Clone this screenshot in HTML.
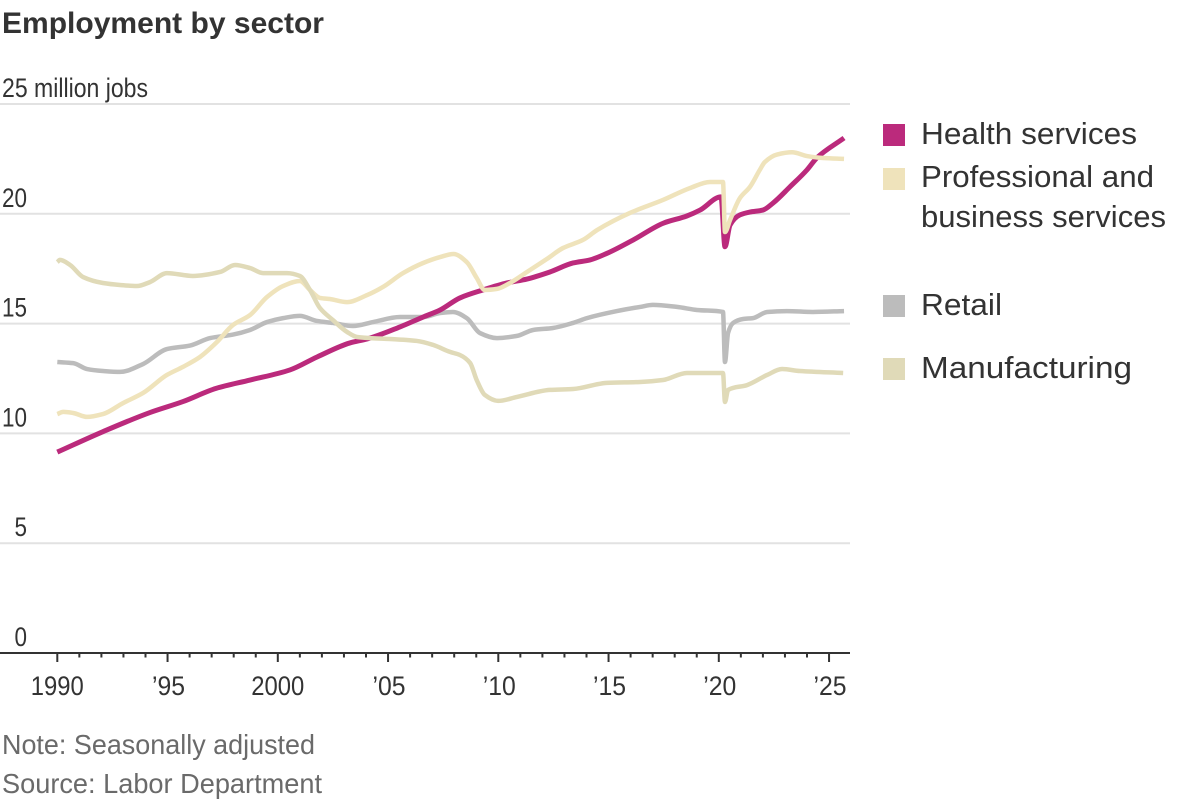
<!DOCTYPE html>
<html lang="en">
<head>
<meta charset="utf-8">
<title>Employment by sector</title>
<style>
html,body{margin:0;padding:0;background:#fff;width:1200px;height:800px;overflow:hidden}
svg{display:block}
text{font-family:"Liberation Sans",sans-serif;fill:#333}
.note{fill:#6a6a6a;font-size:28px}
.legend{font-size:31px}
.tick{font-size:27px}
</style>
</head>
<body>
<svg id="chart" xmlns="http://www.w3.org/2000/svg" width="1200" height="800" viewBox="0 0 1200 800">
  <text x="2" y="33" font-size="30" font-weight="700" textLength="322" lengthAdjust="spacingAndGlyphs">Employment by sector</text>
  <g id="grid"></g>
  <g id="axis"></g>
  <g id="series"></g>
  <g>
    <g>
      <rect x="883" y="124" width="22" height="22" fill="#bb2a7c"/>
      <text class="legend" x="921" y="144" textLength="216" lengthAdjust="spacingAndGlyphs">Health services</text>
    </g>
    <g>
      <rect x="883" y="168" width="22" height="22" fill="#efe3bb"/>
      <text class="legend" x="921" y="187" textLength="233" lengthAdjust="spacingAndGlyphs">Professional and</text>
      <text class="legend" x="921" y="227" textLength="245" lengthAdjust="spacingAndGlyphs">business services</text>
    </g>
    <g>
      <rect x="883" y="295" width="22" height="22" fill="#bcbcbc"/>
      <text class="legend" x="921" y="315" textLength="81" lengthAdjust="spacingAndGlyphs">Retail</text>
    </g>
    <g>
      <rect x="883" y="358" width="22" height="22" fill="#e0dab8"/>
      <text class="legend" x="921" y="378" textLength="211" lengthAdjust="spacingAndGlyphs">Manufacturing</text>
    </g>
  </g>
  <text class="note" x="2" y="754" textLength="313" lengthAdjust="spacingAndGlyphs">Note: Seasonally adjusted</text>
  <text class="note" x="2" y="793" textLength="320" lengthAdjust="spacingAndGlyphs">Source: Labor Department</text>
</svg>
<script>
const yTickValues = [0, 5, 10, 15, 20, 25];
const yTickLabels = ["0", "5", "10", "15", "20", "25 million jobs"];
const xMajorYears = [1990, 1995, 2000, 2005, 2010, 2015, 2020, 2025];
const xMajorLabels = ["1990", "’95", "2000", "’05", "’10", "’15", "’20", "’25"];

const healthYears = [1990,1992.07,1994.2,1995.7,1997.2,1998.74,2000.55,2001.78,2003.27,2004.05,2005.54,2006.59,2007.36,2008.26,2009.3,2010.39,2011.3,2012.34,2013.39,2014.16,2014.93,2016.1,2017.5,2018.55,2019.15,2020.1,2020.28,2020.51,2020.96,2021.41,2022,2022.46,2023.22,2024,2024.45,2025.68];
const healthValues = [9.15,10.08,10.95,11.45,12.05,12.43,12.89,13.48,14.12,14.3,14.85,15.3,15.62,16.17,16.53,16.85,17.03,17.35,17.76,17.9,18.2,18.8,19.58,19.9,20.17,20.77,18.5,19.49,19.95,20.08,20.17,20.49,21.22,22,22.55,23.45];

const professionalYears = [1990,1990.27,1990.72,1991.35,1992.07,1992.98,1993.89,1994.97,1995.7,1996.47,1997.24,1997.97,1998.74,1999.51,2000.24,2001,2001.46,2001.91,2002.36,2003.14,2004.05,2004.77,2005.68,2006.59,2007.36,2007.97,2008.57,2009.02,2009.39,2009.94,2010.53,2011.3,2012.2,2012.93,2013.84,2014.48,2015.97,2017.47,2018.69,2019.6,2020.19,2020.28,2020.51,2020.96,2021.41,2021.86,2022.09,2022.64,2023.32,2024,2024.73,2025.68];
const professionalValues = [10.88,10.98,10.93,10.75,10.88,11.38,11.84,12.66,13.03,13.48,14.16,14.94,15.39,16.21,16.71,16.94,16.53,16.17,16.12,15.98,16.3,16.67,17.3,17.76,18.03,18.17,17.8,17.08,16.53,16.58,16.85,17.35,17.94,18.44,18.81,19.26,20.04,20.63,21.17,21.45,21.45,19.17,19.72,20.72,21.22,22,22.36,22.7,22.8,22.63,22.54,22.5];

const retailYears = [1990,1990.72,1991.35,1992.07,1992.84,1993.89,1994.97,1996.02,1996.93,1997.97,1998.74,1999.51,2000.24,2001,2001.78,2002.5,2003.41,2004.32,2005.54,2006.59,2007.36,2007.94,2008.57,2009.17,2009.94,2010.85,2011.58,2012.48,2013.39,2014.02,2015.38,2016.43,2017.01,2018.1,2019.01,2020.19,2020.28,2020.42,2020.65,2021.1,2021.55,2022.19,2023.09,2024.27,2025.68];
const retailValues = [13.25,13.2,12.93,12.84,12.8,13.16,13.84,14,14.34,14.5,14.71,15.07,15.25,15.35,15.12,15.03,14.89,15.07,15.3,15.3,15.48,15.53,15.25,14.57,14.34,14.44,14.71,14.8,15.03,15.25,15.57,15.76,15.85,15.76,15.62,15.53,13.25,14.57,15.03,15.21,15.25,15.53,15.57,15.53,15.57];

const manufacturingYears = [1990,1990.12,1990.58,1991.17,1992.07,1992.84,1993.61,1994.2,1994.97,1996.15,1997.38,1998.06,1998.74,1999.33,2000.42,2001,2001.46,2001.91,2002.5,2003.14,2003.59,2004.18,2005.09,2006.31,2007.04,2007.81,2008.26,2008.72,2009.02,2009.39,2009.99,2010.85,2012.34,2013.39,2014.93,2016.43,2017.47,2018.55,2020.19,2020.28,2020.42,2021.28,2022.19,2022.87,2023.68,2025.64];
const manufacturingValues = [17.8,17.9,17.67,17.12,16.85,16.76,16.71,16.89,17.3,17.17,17.35,17.67,17.53,17.3,17.3,17.17,16.53,15.71,15.16,14.62,14.39,14.34,14.3,14.21,14.03,13.71,13.57,13.21,12.43,11.75,11.48,11.66,11.98,12.02,12.3,12.34,12.43,12.75,12.75,11.43,11.98,12.2,12.66,12.93,12.84,12.75];

const NS = "http://www.w3.org/2000/svg";
function xScale(year) { return 57.3 + (year - 1990) * 22.05; }
function yScale(value) { return 653 - value * 21.96; }
function make(tag, attrs, parent) {
  const el = document.createElementNS(NS, tag);
  for (const k in attrs) el.setAttribute(k, attrs[k]);
  parent.appendChild(el);
  return el;
}

const gridG = document.getElementById("grid");
const axisG = document.getElementById("axis");
const seriesG = document.getElementById("series");

yTickValues.forEach(function (v, i) {
  if (v !== 0) {
    const line = make("line", {x1: 0, x2: 850, y1: yScale(v), y2: yScale(v), stroke: "#e2e2e2", "stroke-width": 2}, gridG);
    
    
  }
  const label = yTickLabels[i];
  const long = label.length > 2;
  const w = long ? 146 : label.length * 12.5;
  const t = make("text", {class: "tick", x: 27 - (long ? 25 : w), y: yScale(v) - 7, textLength: w, lengthAdjust: "spacingAndGlyphs"}, gridG);
  t.textContent = label;
  
  
});

for (let yr = 1990; yr <= 2025; yr++) {
  const major = xMajorYears.indexOf(yr) >= 0;
  const tick = make("line", {x1: xScale(yr), x2: xScale(yr), y1: 653, y2: major ? 662 : 657.5, stroke: "#333", "stroke-width": 2}, axisG);
  
  
}

const baseline = make("line", {x1: 0, x2: 850, y1: 653, y2: 653, stroke: "#333", "stroke-width": 2}, axisG);



xMajorYears.forEach(function (yr, i) {
  const label = xMajorLabels[i];
  const full = label.length === 4;
  const w = full ? 53 : 33;
  const t = make("text", {class: "tick", x: xScale(yr) + (full ? -26.5 : -15.5), y: 695, textLength: w, lengthAdjust: "spacingAndGlyphs"}, axisG);
  t.textContent = label;
  
  
});

/* monotone cubic path: smooth, with no overshoot at the 2020 dip */
function linePath(years, values) {
  const xs = years.map(xScale);
  const ys = values.map(yScale);
  const n = xs.length;
  const d = [];
  for (let i = 0; i < n - 1; i++) d.push((ys[i + 1] - ys[i]) / (xs[i + 1] - xs[i]));
  const m = [d[0]];
  for (let i = 1; i < n - 1; i++) {
    if (d[i - 1] * d[i] <= 0) { m.push(0); continue; }
    const h0 = xs[i] - xs[i - 1];
    const h1 = xs[i + 1] - xs[i];
    m.push(3 * (h0 + h1) / ((2 * h1 + h0) / d[i - 1] + (h1 + 2 * h0) / d[i]));
  }
  m.push(d[n - 2]);
  let path = "M" + xs[0].toFixed(2) + " " + ys[0].toFixed(2);
  for (let i = 0; i < n - 1; i++) {
    const h = (xs[i + 1] - xs[i]) / 3;
    path += "C" + (xs[i] + h).toFixed(2) + " " + (ys[i] + m[i] * h).toFixed(2) + " " +
      (xs[i + 1] - h).toFixed(2) + " " + (ys[i + 1] - m[i + 1] * h).toFixed(2) + " " +
      xs[i + 1].toFixed(2) + " " + ys[i + 1].toFixed(2);
  }
  return path;
}

const retailLine = make("path", {d: linePath(retailYears, retailValues), fill: "none", stroke: "#bcbcbc", "stroke-width": 4.5, "stroke-linejoin": "round"}, seriesG);



const healthLine = make("path", {d: linePath(healthYears, healthValues), fill: "none", stroke: "#bb2a7c", "stroke-width": 5, "stroke-linejoin": "miter"}, seriesG);



const professionalLine = make("path", {d: linePath(professionalYears, professionalValues), fill: "none", stroke: "#efe3bb", "stroke-width": 4.5, "stroke-linejoin": "round"}, seriesG);



const manufacturingLine = make("path", {d: linePath(manufacturingYears, manufacturingValues), fill: "none", stroke: "#e0dab8", "stroke-width": 4.5, "stroke-linejoin": "round"}, seriesG);


</script>
</body>
</html>
